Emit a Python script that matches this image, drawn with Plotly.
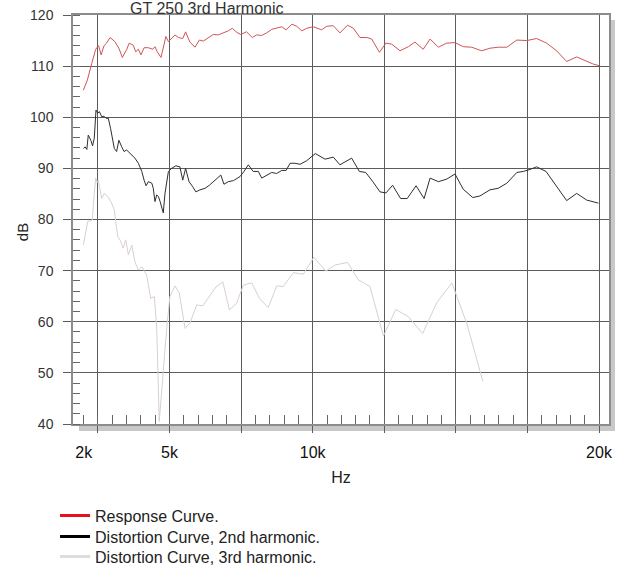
import plotly.graph_objects as go

# ---------------- data ----------------
resp_f = [1990, 2130, 2280, 2420, 2520, 2610, 2710, 2800, 2920, 3090, 3230, 3350, 3500, 3590,
          3730, 3820, 3910, 4000, 4110, 4260, 4410, 4490, 4570, 4700, 4810, 4870, 4960, 5070,
          5190, 5310, 5460, 5560, 5710, 5890, 6040, 6180, 6350, 6530, 6700, 6880, 7050, 7190,
          7350, 7480, 7690, 7890, 8040, 8220, 8390, 8570, 8740, 8920, 9070, 9270, 9440, 9620,
          9790, 10020, 10310, 10490, 10720, 10950, 11220, 11420, 11650, 11890, 12060, 12330,
          12560, 12760, 13050, 13340, 13570, 13860, 14100, 14390, 14680, 14970, 15260, 15550,
          15900, 16190, 16480, 16780, 17130, 17480, 17820, 18170, 18520, 18870, 19220, 19570,
          19800, 20000]
resp_db = [105.3, 107.3, 110.5, 113.3, 114.0, 112.2, 114.0, 114.5, 115.6, 114.8, 113.5, 111.7,
           113.2, 114.5, 114.1, 112.8, 113.3, 112.2, 113.6, 113.6, 113.3, 113.8, 112.8, 111.7,
           114.3, 115.8, 114.8, 115.4, 116.1, 115.6, 115.4, 116.7, 114.7, 113.7, 115.1, 114.9,
           115.6, 116.2, 116.1, 116.5, 116.9, 117.4, 116.6, 116.2, 116.7, 115.6, 116.1, 116.0,
           116.5, 117.2, 117.5, 117.7, 117.1, 118.2, 117.8, 116.9, 117.4, 117.7, 117.1, 117.8,
           117.9, 116.5, 118.0, 117.4, 115.6, 115.6, 115.3, 112.7, 114.5, 114.3, 113.0, 113.8,
           114.7, 113.3, 115.3, 113.7, 114.5, 114.6, 113.8, 113.7, 113.0, 113.5, 113.7, 113.7,
           115.1, 115.0, 115.4, 114.5, 113.0, 110.9, 111.8, 110.9, 110.4, 110.1]

h2_f = [1990, 2050, 2110, 2160, 2250, 2310, 2370, 2430, 2490, 2550, 2630, 2710, 2780, 2860,
        2940, 3000, 3070, 3150, 3230, 3330, 3410, 3500, 3590, 3680, 3790, 3910, 4030, 4110,
        4180, 4260, 4380, 4430, 4490, 4550, 4610, 4670, 4720, 4780, 4840, 4900, 4960, 5070,
        5220, 5360, 5460, 5560, 5680, 5810, 5920, 6060, 6240, 6390, 6530, 6670, 6790, 6900,
        7050, 7230, 7460, 7600, 7750, 7920, 8100, 8220, 8390, 8570, 8740, 8920, 9070, 9210,
        9380, 9560, 9790, 10090, 10430, 10720, 10950, 11360, 11630, 11850, 12100, 12350,
        12560, 12790, 13070, 13300, 13610, 13890, 14100, 14390, 14680, 14970, 15260, 15590,
        15840, 16190, 16480, 16780, 17130, 17360, 17590, 17820, 18150, 18520, 18870, 19220,
        19570, 19980]
h2_db = [93.9, 94.2, 93.7, 96.5, 95.5, 94.4, 95.9, 101.4, 100.8, 101.1, 100.1, 100.2, 99.8,
         99.8, 97.8, 96.2, 93.9, 93.3, 95.5, 94.2, 93.3, 93.6, 93.1, 92.8, 92.0, 91.0, 89.4,
         87.7, 86.6, 87.4, 87.1, 86.1, 83.5, 84.8, 84.5, 83.5, 82.5, 81.3, 85.1, 87.7, 89.4,
         90.0, 90.5, 90.3, 87.7, 90.0, 87.4, 86.4, 85.4, 85.8, 86.1, 86.7, 87.4, 88.1, 88.7,
         86.9, 87.4, 87.6, 88.4, 89.4, 90.7, 89.4, 89.4, 88.1, 88.7, 89.2, 89.0, 89.6, 89.6,
         91.0, 91.0, 90.8, 91.5, 92.9, 91.8, 92.2, 90.7, 92.0, 89.4, 89.2, 87.4, 85.4, 85.2,
         86.7, 84.1, 84.1, 86.6, 84.1, 88.1, 87.4, 87.9, 88.9, 85.9, 84.3, 84.6, 85.8, 86.1,
         87.1, 89.2, 89.4, 89.8, 90.3, 89.4, 86.4, 83.7, 85.1, 83.8, 83.2]

h3_f = [1990, 2140, 2220, 2300, 2370, 2420, 2470, 2510, 2570, 2630, 2720, 2840, 2950, 3070,
        3120, 3190, 3270, 3380, 3470, 3560, 3680, 3790, 3910, 4030, 4200, 4340, 4470, 4550,
        4640, 4750, 4900, 5010, 5190, 5340, 5540, 5710, 5950, 6160, 6350, 6620, 6860, 7090,
        7340, 7580, 7870, 8160, 8450, 8740, 8970, 9320, 9670, 10040, 10460, 10780, 11220,
        11590, 12000, 12470, 12900, 13340, 13840, 14330, 14860, 15380, 15940]
h3_db = [75.0, 79.6, 79.7, 79.9, 85.1, 88.1, 87.2, 87.7, 85.8, 84.1, 85.1, 84.5, 83.5, 81.9,
         79.6, 76.6, 76.0, 74.4, 76.0, 73.1, 75.0, 71.7, 70.1, 70.8, 69.1, 64.6, 64.9, 59.0,
         40.5, 48.6, 58.7, 64.9, 67.0, 65.6, 58.7, 59.7, 63.3, 63.1, 64.6, 66.8, 67.8, 62.3,
         63.6, 67.2, 67.6, 64.4, 62.8, 67.0, 66.9, 69.6, 69.3, 72.6, 69.9, 71.1, 71.6, 68.2,
         66.9, 57.2, 62.4, 61.0, 57.7, 63.7, 67.6, 59.7, 48.4]

series_names = ["Response Curve.", "Distortion Curve, 2nd harmonic.", "Distortion Curve, 3rd harmonic."]
tick_vals = [2000, 5000, 10000, 20000]
tick_text = ["2k", "5k", "10k", "20k"]
title_text = "GT 250 3rd Harmonic"
x_title = "Hz"
y_title = "dB"

# ---------------- styling ----------------
FONT = "Liberation Sans, Arial, sans-serif"
GRID = "#5c5c5c"
FRAME = "#8c8c8c"
X_RANGE = [1627, 20349]

line_cols = ["#d05555", "#2e2e2e", "#dacfcf"]
legend_cols = ["#e8101a", "#000000", "#dddddd"]
legend_ids = ["legend", "legend2", "legend3"]
legend_tops = [0.1254, 0.0886, 0.0535]   # container coordinates

fig = go.Figure()
for f, d, c in zip([resp_f, h2_f, h3_f], [resp_db, h2_db, h3_db], line_cols):
    fig.add_trace(go.Scatter(x=f, y=d, mode="lines", line=dict(color=c, width=1),
                             showlegend=False, hoverinfo="x+y"))
for name, c, lg in zip(series_names, legend_cols, legend_ids):
    fig.add_trace(go.Scatter(x=[None], y=[None], mode="lines", name=name, legend=lg,
                             line=dict(color=c, width=3), xaxis="x2", showlegend=True))

legend_style = dict(xref="container", yref="container", x=0.0868, xanchor="left",
                    yanchor="top", font=dict(size=16, color="#222222"),
                    bgcolor="rgba(0,0,0,0)", borderwidth=0)

fig.update_layout(
    width=634, height=570, autosize=False,
    margin=dict(l=73, r=25, t=15, b=146, autoexpand=False),
    paper_bgcolor="white", plot_bgcolor="white",
    font=dict(family=FONT, color="#222222", size=14),
    xaxis=dict(range=X_RANGE, tickmode="linear", tick0=0, dtick=2500, automargin=False,
               showgrid=True, gridcolor=GRID, gridwidth=1.2,
               ticks="outside", ticklen=7, tickcolor=GRID, tickwidth=1.2,
               showticklabels=False, zeroline=False,
               showline=True, linecolor=FRAME, linewidth=1.5, mirror=True,
               minor=dict(tick0=0, dtick=500, ticks="inside", ticklen=9,
                          tickcolor="#666666", tickwidth=1, showgrid=False)),
    xaxis2=dict(range=X_RANGE, overlaying="x", side="bottom", anchor="y", automargin=False,
                tickmode="array", tickvals=tick_vals, ticktext=tick_text,
                showgrid=False, ticks="", showline=False, zeroline=False,
                tickfont=dict(size=16, color="#111111"), ticklabelstandoff=17,
                title=dict(text=x_title, font=dict(size=16, color="#222222"), standoff=11)),
    yaxis=dict(range=[40, 120], tickmode="linear", tick0=0, dtick=10, automargin=False,
               showgrid=True, gridcolor=GRID, gridwidth=1.2,
               ticks="outside", ticklen=8, tickcolor=GRID, tickwidth=1.2,
               zeroline=False, showline=True, linecolor=FRAME, linewidth=1.5, mirror=True,
               tickfont=dict(size=14, color="#333333"), ticklabelstandoff=7,
               minor=dict(tick0=0, dtick=2, ticks="inside", ticklen=7,
                          tickcolor="#666666", tickwidth=1, showgrid=False)),
    legend=dict(y=legend_tops[0], **legend_style),
    legend2=dict(y=legend_tops[1], **legend_style),
    legend3=dict(y=legend_tops[2], **legend_style),
    shapes=[
        dict(type="rect", xref="paper", yref="paper", x0=1.0, x1=1.0112,
             y0=-0.0171, y1=0.9878, fillcolor="#c8c8c8", line=dict(width=0), layer="below"),
        dict(type="rect", xref="paper", yref="paper", x0=0.0112, x1=1.0112,
             y0=-0.0171, y1=0, fillcolor="#c8c8c8", line=dict(width=0), layer="below"),
    ],
    annotations=[
        dict(text=title_text, xref="paper", yref="paper", x=0.25, y=1.0147,
             xanchor="center", yanchor="middle", showarrow=False,
             font=dict(size=16, color="#333333")),
        dict(text=y_title, xref="paper", yref="paper", x=-0.0951, y=0.469,
             xanchor="center", yanchor="middle", showarrow=False, textangle=-90,
             font=dict(size=15, color="#222222")),
    ],
)

fig.write_html("out.html", config={"displayModeBar": False},
               post_script="document.body.style.margin='0px';")
